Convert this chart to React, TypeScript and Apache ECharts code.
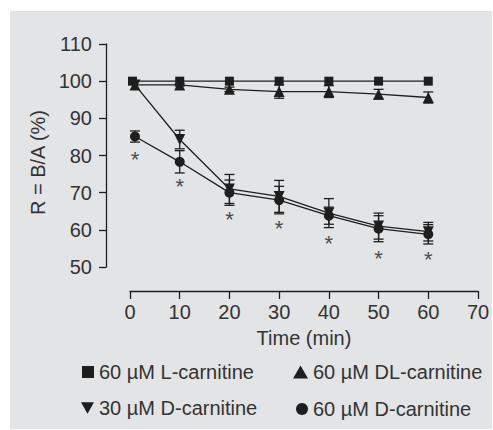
import React, { useEffect, useRef } from "react";
import * as echarts from "echarts";

const lCarnitineX = [0.5, 10, 20, 30, 40, 50, 60];
const lCarnitine = [100, 100, 100, 100, 100, 100, 100];

const dlCarnitineX = [1, 10, 20, 30, 40, 50, 60];
const dlCarnitine = [99, 99, 97.8, 97.2, 97.2, 96.5, 95.6];
const dlCarnitineErr = [0, 0.3, 0.6, 1.8, 1.6, 1.3, 1.5];

const d30X = [1, 10, 20, 30, 40, 50, 60];
const d30 = [99, 84.3, 71, 69, 64.5, 61, 59.5];
const d30Err = [0, 2.5, 3.9, 4.3, 3.9, 3.5, 2.5];

const d60X = [1, 10, 20, 30, 40, 50, 60];
const d60 = [85.1, 78.3, 70, 68, 63.8, 60.3, 58.8];
const d60Err = [1.5, 3, 3.4, 3.7, 2.3, 3.5, 2.6];

const starX = [1, 10, 20, 30, 40, 50, 60];
const starY = [80.3, 72.9, 64.2, 61.7, 57.7, 53.7, 53.3];

const xTicks = [0, 10, 20, 30, 40, 50, 60, 70];
const yTicks = [50, 60, 70, 80, 90, 100, 110];

const names = ["60 µM L-carnitine", "60 µM DL-carnitine", "30 µM D-carnitine", "60 µM D-carnitine"];

const FONT = "Liberation Sans";
const INK = "#1e1e1e";
const TEXT = "#333333";

export default function App() {
  const ref = useRef<HTMLDivElement>(null);
  useEffect(() => {
    const chart = echarts.init(ref.current!, null, { renderer: "svg" });
    const pairs = (xs: number[], ys: number[]) => xs.map((x, i) => [x, ys[i]]);
    const errData = (xs: number[], ys: number[], es: number[]) =>
      xs.map((x, i) => [x, ys[i] - es[i], ys[i] + es[i]]).filter((d, i) => es[i] > 0);
    const errSeries = (data: number[][]) => ({
      type: "custom",
      silent: true,
      z: 1,
      data,
      encode: { x: 0, y: [1, 2] },
      renderItem: (params: any, api: any) => {
        const x = api.value(0);
        const lo = api.coord([x, api.value(1)]);
        const hi = api.coord([x, api.value(2)]);
        const w = 5;
        const style = { stroke: INK, lineWidth: 1.3 };
        return {
          type: "group",
          children: [
            { type: "line", shape: { x1: lo[0], y1: lo[1], x2: hi[0], y2: hi[1] }, style },
            { type: "line", shape: { x1: lo[0] - w, y1: lo[1], x2: lo[0] + w, y2: lo[1] }, style },
            { type: "line", shape: { x1: hi[0] - w, y1: hi[1], x2: hi[0] + w, y2: hi[1] }, style },
          ],
        };
      },
    });
    const lineSeries = (name: string, data: number[][], symbol: string, size: number, rotate = 0) => ({
      type: "line",
      name,
      data,
      symbol,
      symbolSize: size,
      symbolRotate: rotate,
      showAllSymbol: true,
      z: 3,
      lineStyle: { color: INK, width: 1.3 },
      itemStyle: { color: INK, borderWidth: 0 },
    });
    const legendItem = (name: string, icon: string, left: number, top: number, w: number, h: number) => ({
      show: true,
      left,
      top,
      itemWidth: w,
      itemHeight: h,
      padding: 0,
      selectedMode: false,
      data: [{ name, icon }],
      textStyle: { fontFamily: FONT, fontSize: 20, color: TEXT },
    });

    chart.setOption({
      animation: false,
      backgroundColor: "#ffffff",
      graphic: [
        {
          type: "rect",
          z: -10,
          shape: { x: 10, y: 11, width: 482, height: 418 },
          style: { fill: "#e3e4e6" },
        },
      ],
      grid: { left: 130, top: 44, width: 348, height: 223 },
      xAxis: {
        type: "value",
        min: 0,
        max: 70,
        interval: 10,
        offset: 24,
        name: "Time (min)",
        nameLocation: "middle",
        nameGap: 37,
        nameTextStyle: { fontFamily: FONT, fontSize: 20, color: TEXT },
        axisLine: { show: true, onZero: false, lineStyle: { color: INK, width: 1.3 } },
        axisTick: { show: true, inside: false, length: 8, lineStyle: { color: INK, width: 1.3 } },
        axisLabel: {
          fontFamily: FONT,
          fontSize: 20,
          color: TEXT,
          margin: 11,
          formatter: (v: number) => (xTicks.includes(v) ? String(v) : ""),
        },
        splitLine: { show: false },
      },
      yAxis: {
        type: "value",
        min: 50,
        max: 110,
        interval: 10,
        offset: 24,
        name: "R = B/A (%)",
        nameLocation: "middle",
        nameGap: 42,
        nameRotate: 90,
        nameTextStyle: { fontFamily: FONT, fontSize: 20, color: TEXT, padding: [0, 14, 0, 0] },
        axisLine: { show: true, onZero: false, lineStyle: { color: INK, width: 1.3 } },
        axisTick: { show: true, inside: false, length: 7, lineStyle: { color: INK, width: 1.3 } },
        axisLabel: {
          fontFamily: FONT,
          fontSize: 20,
          color: TEXT,
          margin: 14,
          formatter: (v: number) => (yTicks.includes(v) ? String(v) : ""),
        },
        splitLine: { show: false },
      },
      legend: [
        legendItem(names[0], "rect", 82, 362, 12, 12),
        legendItem(names[1], "triangle", 293, 362, 15, 13),
        legendItem(names[2], "path://M0,0L10,0L5,9Z", 81, 398, 13, 12),
        legendItem(names[3], "circle", 296, 399, 12, 12),
      ],
      series: [
        errSeries(errData(dlCarnitineX, dlCarnitine, dlCarnitineErr)),
        errSeries(errData(d30X, d30, d30Err)),
        errSeries(errData(d60X, d60, d60Err)),
        lineSeries(names[0], pairs(lCarnitineX, lCarnitine), "rect", 9),
        lineSeries(names[1], pairs(dlCarnitineX, dlCarnitine), "triangle", 11),
        lineSeries(names[2], pairs(d30X, d30), "triangle", 11, 180),
        lineSeries(names[3], pairs(d60X, d60), "circle", 10),
        {
          type: "scatter",
          silent: true,
          data: pairs(starX, starY),
          symbol: "circle",
          symbolSize: 1,
          itemStyle: { color: "rgba(0,0,0,0)" },
          label: {
            show: true,
            position: "inside",
            formatter: "*",
            fontFamily: FONT,
            fontSize: 22,
            color: "#222222",
            offset: [0, 5],
          },
        },
      ],
    });
    return () => chart.dispose();
  }, []);
  return (
    <div
      ref={ref}
      style={{ position: "fixed", left: 0, top: 0, width: 493, height: 430 }}
    />
  );
}
